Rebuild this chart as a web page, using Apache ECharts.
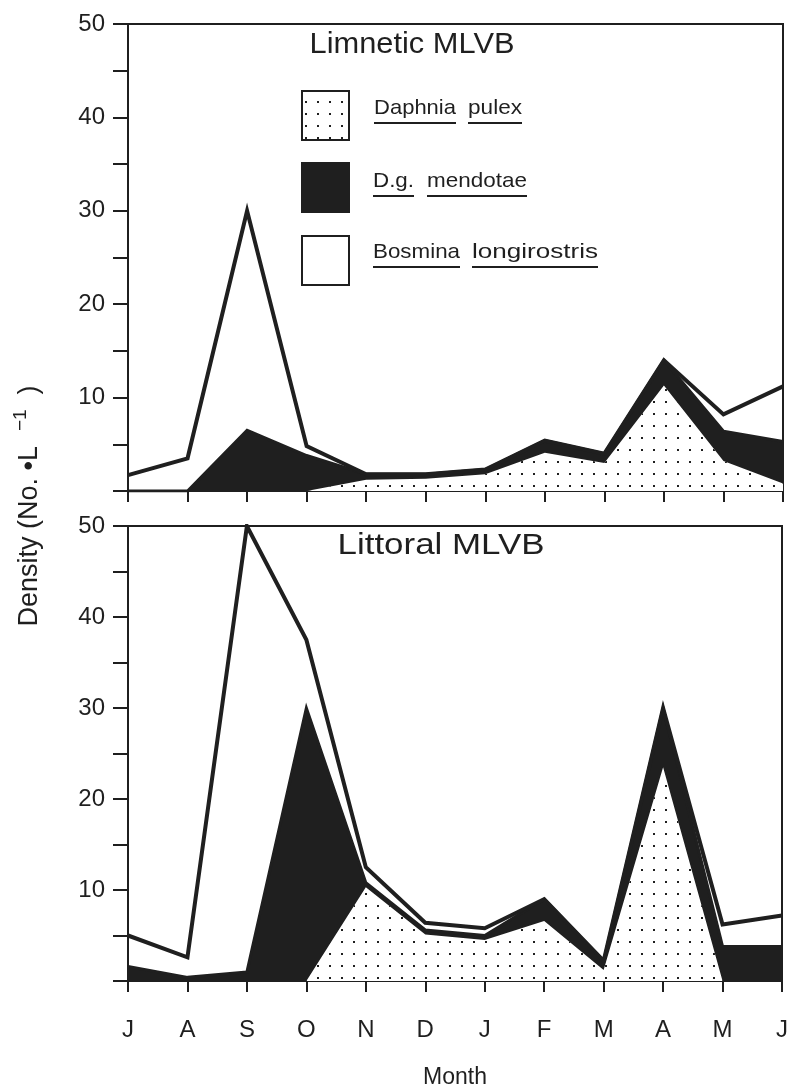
<!DOCTYPE html>
<html><head><meta charset="utf-8">
<script src="https://cdn.jsdelivr.net/npm/echarts@6/dist/echarts.min.js"></script>
<style>html,body{margin:0;padding:0;background:#fff}#c{width:791px;height:1090px}</style>
</head><body><div id="c"></div>
<script>
// ---- data ----
const months = ['J','A','S','O','N','D','J','F','M','A','M','J'];
const yTicks = [10, 20, 30, 40, 50];
// Limnetic MLVB (No. per L), per species, stacked
const limDaphnia  = [0,   0,   0,    0,   1.2, 1.3, 1.8, 4.1, 3.0, 11.3, 3.2, 0.8];
const limMendotae = [0,   0,   6.5,  3.8, 0.6, 0.5, 0.5, 1.3, 1.0, 2.7,  3.2, 4.5];
const limBosmina  = [1.7, 3.5, 23.5, 1.0, 0,   0,   0,   0,   0,   0,    1.8, 5.9];
// Littoral MLVB
const litDaphnia  = [0,   0,   0,    0,    10.3, 5.1, 4.5, 6.6, 1.2, 23.5, 0,   0];
const litMendotae = [1.6, 0.4, 1.0,  30,   0.5,  0.5, 0.5, 2.4, 1.0, 6.5,  3.8, 3.8];
const litBosmina  = [3.4, 2.2, 49,   7.5,  1.7,  0.8, 0.8, 0,   0,   0,    2.4, 3.4];
const panelTitles = ['Limnetic MLVB', 'Littoral MLVB'];
const legendNames = [['Daphnia','pulex'], ['D.g.','mendotae'], ['Bosmina','longirostris']];

// ---- styles ----
const INK = '#1f1f1f';
const FONT = '"Liberation Sans", Arial, sans-serif';
const dot = document.createElement('canvas');
dot.width = 12; dot.height = 12;
(function(){ const c = dot.getContext('2d'); c.fillStyle = '#fff'; c.fillRect(0,0,12,12); c.fillStyle = INK; c.fillRect(5,5,2,2); })();
const dotPattern = {image: dot, repeat: 'repeat'};

const grids = [
  {left:128, top:24, width:655, height:467},
  {left:128, top:526, width:655, height:465}
];

function xAxisFor(i){
  return {
    gridIndex:i, type:'category', data:months, boundaryGap:false,
    axisLine:{lineStyle:{color:INK, width:2}},
    axisTick:{show:true, interval:0, length:11, lineStyle:{color:INK, width:2}},
    axisLabel:{show:i===1, interval:0, fontSize:24, margin:37, color:INK, fontFamily:FONT},
    splitLine:{show:false},
    name: i===1 ? 'Month' : '', nameLocation:'middle', nameGap:85,
    nameTextStyle:{fontSize:23, color:INK, fontFamily:FONT}
  };
}
function yAxisFor(i){
  return {
    gridIndex:i, type:'value', min:0, max:50, interval:5,
    axisLine:{show:true, lineStyle:{color:INK, width:2}},
    axisTick:{show:true, length:15, lineStyle:{color:INK, width:2}},
    axisLabel:{formatter:v => yTicks.includes(v) ? String(v) : '', fontSize:24, margin:23, color:INK, fontFamily:FONT},
    splitLine:{show:false}
  };
}
function panelSeries(i, daph, mend, bosm){
  const st = 'stk' + i;
  return [
    {type:'line', xAxisIndex:i, yAxisIndex:i, stack:st, data:daph, symbol:'none',
     lineStyle:{width:0}, areaStyle:{color:dotPattern, opacity:1}, z:2, silent:true},
    {type:'line', xAxisIndex:i, yAxisIndex:i, stack:st, data:mend, symbol:'none',
     lineStyle:{width:3, color:INK, join:'miter'}, areaStyle:{color:INK, opacity:1}, z:3, silent:true},
    {type:'line', xAxisIndex:i, yAxisIndex:i, stack:st, data:bosm, symbol:'none',
     lineStyle:{width:4, color:INK, join:'miter', miterLimit:20}, z:4, silent:true}
  ];
}

const mctx = document.createElement('canvas').getContext('2d');
function scaledText(str, x, y, size, targetW, align){
  mctx.font = size + 'px ' + FONT;
  const mw = mctx.measureText(str).width;
  return {type:'text', x:x, y:y, scaleX: targetW / mw,
    style:{text:str, font: size + 'px ' + FONT, fill:INK, textAlign:align || 'left', textVerticalAlign:'middle'}, z:10};
}

// legend drawing
const LFS = 21;
const legendBoxY = [91, 163, 236];
const legendTextY = [108, 181, 252];
const wordSpans = [[[374,82],[468,54]], [[373,41],[427,100]], [[373,87],[472,126]]];
const graphic = [];
legendBoxY.forEach((y, k) => {
  const fill = k === 0 ? dotPattern : (k === 1 ? INK : '#fff');
  graphic.push({type:'rect', shape:{x:302, y:y, width:47, height:49}, style:{fill:fill, stroke:INK, lineWidth:2}, z:10});
  legendNames[k].forEach((w, j) => {
    const [x0, tw] = wordSpans[k][j];
    graphic.push(scaledText(w, x0, legendTextY[k], LFS, tw));
    graphic.push({type:'line', shape:{x1:x0, y1:legendTextY[k]+15, x2:x0+tw, y2:legendTextY[k]+15}, style:{stroke:INK, lineWidth:2}, z:10});
  });
});
// panel titles
graphic.push(scaledText(panelTitles[0], 412, 45, 30, 205, 'center'));
graphic.push(scaledText(panelTitles[1], 441, 546, 30, 207, 'center'));
// y axis name
graphic.push({type:'text', x:30, y:506, rotation:Math.PI/2,
  style:{text:'{a|Density (No. •L  }{b|−1}{a|  )}', textAlign:'center', textVerticalAlign:'middle', fill:INK,
    rich:{a:{fontSize:27, fontFamily:FONT, color:INK, lineHeight:38, verticalAlign:'middle'},
          b:{fontSize:19, fontFamily:FONT, color:INK, verticalAlign:'top'}}}, z:10});

const chart = echarts.init(document.getElementById('c'), null, {renderer:'canvas'});
chart.setOption({
  animation:false,
  backgroundColor:'#fff',
  grid: grids.map(g => Object.assign({show:true, borderColor:INK, borderWidth:2, backgroundColor:'transparent'}, g)),
  xAxis:[xAxisFor(0), xAxisFor(1)],
  yAxis:[yAxisFor(0), yAxisFor(1)],
  series:[].concat(panelSeries(0, limDaphnia, limMendotae, limBosmina), panelSeries(1, litDaphnia, litMendotae, litBosmina)),
  graphic: graphic
});
</script></body></html>
